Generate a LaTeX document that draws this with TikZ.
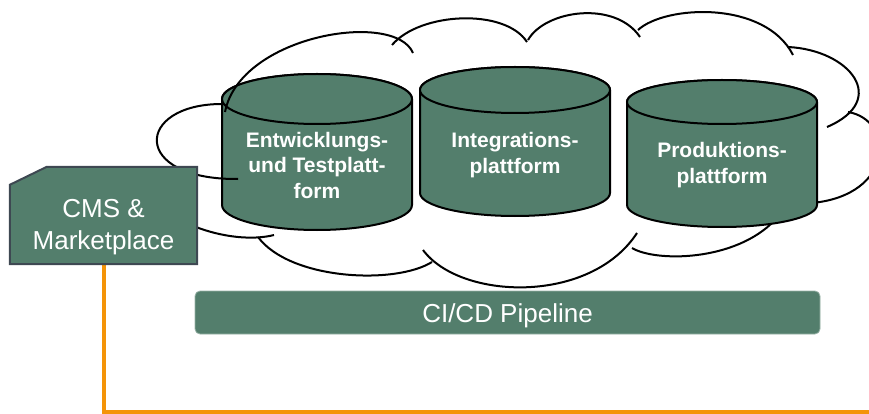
\documentclass[tikz,border=0pt]{standalone}
\usepackage{fontspec}
\setmainfont{Liberation Sans}
\definecolor{platgreen}{RGB}{83,126,108}
\definecolor{feedorange}{RGB}{244,148,8}
\definecolor{boxedge}{RGB}{62,72,82}

\begin{document}
\begin{tikzpicture}[x=1pt, y=-1pt,
                    cloudline/.style={draw=black, line width=2pt},
                    cyl/.style={fill=platgreen, draw=black, line width=2pt},
                    cyltext/.style={text=white, align=center, font=\bfseries\fontsize{21}{25.5}\selectfont},
                    boxtext/.style={text=white, align=center, font=\fontsize{26}{32}\selectfont},
                    cmsbox/.style={minimum width=187pt, minimum height=97pt, inner sep=0pt},
                    pipebar/.style={fill=platgreen, draw=platgreen!60!white, line width=0.8pt,
                                    rounded corners=5pt, minimum width=625pt, minimum height=43pt,
                                    inner sep=0pt, text=white, font=\fontsize{26}{32}\selectfont,
                                    text height=26pt, text depth=5.5pt},
                    feed/.style={draw=feedorange, line width=4pt}]
  \useasboundingbox (0,0) rectangle (869,414);

  % cloud behind the platforms
  \draw[cloudline] (392,45) .. controls (420,12) and (505,8) .. (527,42);
  \draw[cloudline] (528,40) .. controls (545,10) and (615,0) .. (640,37);
  \draw[cloudline] (638,30) .. controls (665,5) and (765,0) .. (793,55);
  \draw[cloudline] (788,47) .. controls (850,50) and (890,100) .. (827,127);
  \draw[cloudline] (848,112) .. controls (895,120) and (895,195) .. (812,203);
  \draw[cloudline] (632,248) .. controls (655,262) and (735,262) .. (775,220);
  \draw[cloudline] (423,250) .. controls (460,300) and (590,305) .. (637,233);
  \draw[cloudline] (258,237) .. controls (290,280) and (395,285) .. (432,262);
  \draw[cloudline] (274,235) .. controls (255,240) and (215,240) .. (170,215);

  % platforms
  \foreach \cx/\ct/\cb/\ry in {317/99/205/25, 515/90/193/23, 722/102/205/22} {
    \filldraw[cyl] (\cx-95,\ct) -- (\cx-95,\cb)
      arc[start angle=180, end angle=0, x radius=95, y radius=\ry] -- (\cx+95,\ct)
      arc[start angle=0, end angle=-180, x radius=95, y radius=\ry] -- cycle;
    \draw[cyl] (\cx,\ct) ellipse[x radius=95, y radius=\ry];
  }
  \node[cyltext] (dev) at (317,165) {Entwicklungs-\\und Testplatt-\\form};
  \node[cyltext] (int) at (515,155) {Integrations-\\plattform};
  \node[cyltext] (prod) at (722,165) {Produktions-\\plattform};

  % cloud parts in front of the first platform
  \draw[cloudline] (225,112) .. controls (240,35) and (395,10) .. (413,53);
  \draw[cloudline] (222,104) .. controls (135,104) and (130,180) .. (238,179);

  % CMS with feed line
  \node[cmsbox] (cms) at (103.5,215.5) {};
  \coordinate (feedend) at (869,411.5);
  \draw[feed] (cms.south) |- (feedend);
  \filldraw[fill=platgreen, draw=boxedge, line width=2pt]
    (cms.south west) -- (cms.south east) -- (cms.north east)
    -- ([xshift=37pt]cms.north west) -- ([yshift=-18pt]cms.north west) -- cycle;
  \node[boxtext] (cmslabel) at (103.5,227.5) {CMS \&\\Marketplace};

  \node[pipebar] (pipe) at (507.5,312.5) {CI/CD Pipeline};
\end{tikzpicture}
\end{document}
